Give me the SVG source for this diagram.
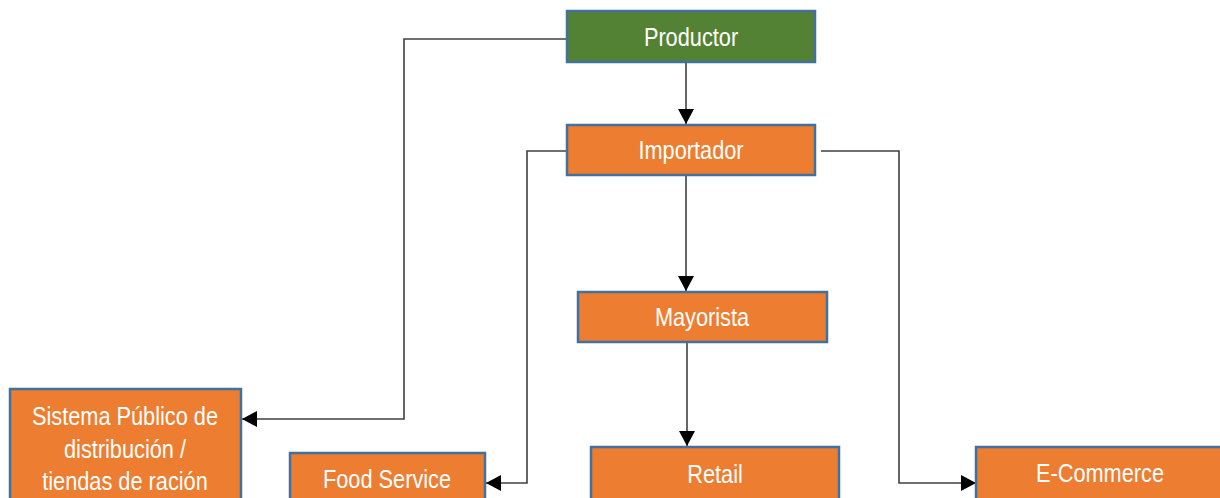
<svg xmlns="http://www.w3.org/2000/svg" width="1220" height="498" viewBox="0 0 1220 498">
<defs>
<style>
.box{stroke:#41719C;stroke-width:2.5}
.g{fill:#548235}
.o{fill:#ED7D31}
.t{font-family:"Liberation Sans",Arial,sans-serif;font-size:25px;fill:#FFFFFF;text-anchor:middle}
.c{fill:none;stroke:#404040;stroke-width:1.6}
</style>
<marker id="ah" markerUnits="userSpaceOnUse" markerWidth="15" markerHeight="16" refX="15" refY="8" orient="auto">
<path d="M0,0 L15,8 L0,16 z" fill="#000000"/>
</marker>
</defs>
<rect width="1220" height="498" fill="#FFFFFF"/>
<g id="connectors">
<line class="c" x1="686" y1="62" x2="686" y2="124" marker-end="url(#ah)"/>
<line class="c" x1="686" y1="176" x2="686" y2="291" marker-end="url(#ah)"/>
<line class="c" x1="687" y1="343" x2="687" y2="446" marker-end="url(#ah)"/>
<polyline class="c" points="566,39 404,39 404,419 242,419" marker-end="url(#ah)"/>
<polyline class="c" points="566,151 527,151 527,483 486,483" marker-end="url(#ah)"/>
<polyline class="c" points="821,151 899,151 899,483 976,483" marker-end="url(#ah)"/>
</g>
<g id="productor">
<rect class="box g" x="567" y="11" width="248" height="51"/>
<text class="t" transform="translate(691,46) scale(0.87,1)">Productor</text>
</g>
<g id="importador">
<rect class="box o" x="567" y="125" width="248" height="50"/>
<text class="t" transform="translate(691,159) scale(0.87,1)">Importador</text>
</g>
<g id="mayorista">
<rect class="box o" x="578" y="292" width="249" height="50"/>
<text class="t" transform="translate(702,326) scale(0.87,1)">Mayorista</text>
</g>
<g id="retail">
<rect class="box o" x="591" y="447" width="248" height="60"/>
<text class="t" transform="translate(715,483) scale(0.87,1)">Retail</text>
</g>
<g id="sistema">
<rect class="box o" x="10" y="389" width="231" height="120"/>
<text class="t" transform="translate(125,425) scale(0.87,1)">Sistema Público de</text>
<text class="t" transform="translate(125,458) scale(0.87,1)">distribución /</text>
<text class="t" transform="translate(125,490) scale(0.87,1)">tiendas de ración</text>
</g>
<g id="foodservice">
<rect class="box o" x="290" y="453" width="195" height="60"/>
<text class="t" transform="translate(387,488) scale(0.87,1)">Food Service</text>
</g>
<g id="ecommerce">
<rect class="box o" x="976" y="447" width="250" height="60"/>
<text class="t" transform="translate(1100,482) scale(0.87,1)">E-Commerce</text>
</g>
</svg>
